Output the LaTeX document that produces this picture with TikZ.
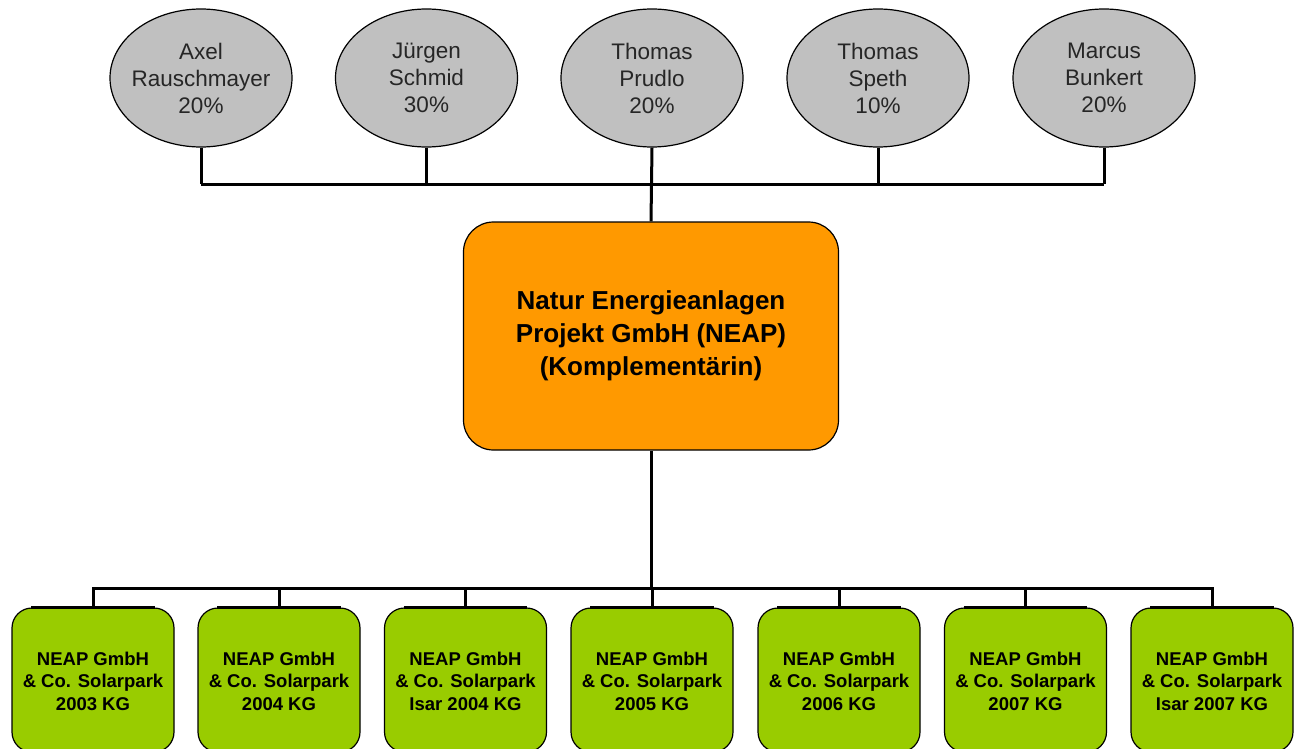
\documentclass[tikz,border=0pt]{standalone}
\usepackage{fontspec}
\setmainfont{Liberation Sans}
\usetikzlibrary{shapes.geometric}
\definecolor{pgray}{HTML}{C0C0C0}
\definecolor{porange}{HTML}{FF9900}
\definecolor{pgreen}{HTML}{99CC00}
\tikzset{
  person/.style={ellipse, draw=black, line width=1.2pt, fill=pgray, minimum width=182pt, minimum height=138pt, inner sep=0pt},
  ptext/.style={align=center, text=black!85, font=\fontsize{22.5}{27}\selectfont, inner sep=0pt},
  mainbox/.style={rectangle, rounded corners=30pt, draw=black, line width=1.2pt, fill=porange, minimum width=375pt, minimum height=228pt, align=center, font=\fontsize{26}{33}\selectfont\bfseries},
  subbox/.style={rectangle, rounded corners=20pt, draw=black, line width=1.2pt, fill=pgreen, minimum width=162pt, minimum height=144pt, inner sep=0pt},
  stext/.style={align=center, font=\fontsize{18.5}{22.5}\selectfont\bfseries, inner sep=0pt},
  conn/.style={draw=black, line width=3pt},
  topedge/.style={draw=black, line width=3pt},
}
\begin{document}
\begin{tikzpicture}[x=1pt,y=-1pt]
\useasboundingbox (0,0) rectangle (1296,749);
\clip (0,0) rectangle (1296,749);
% persons
\node[person] (p1) at (201,78) {};
\node[person] (p2) at (426.5,78) {};
\node[person] (p3) at (652,78) {};
\node[person] (p4) at (878,78) {};
\node[person] (p5) at (1104,78) {};
\node[ptext] (t1) at (p1.center) {Axel\\Rauschmayer\\20\%};
\node[ptext] (t2) at (p2.center) {Jürgen\\Schmid\\30\%};
\node[ptext] (t3) at (p3.center) {Thomas\\Prudlo\\20\%};
\node[ptext] (t4) at (p4.center) {Thomas\\Speth\\10\%};
\node[ptext] (t5) at (p5.center) {Marcus\\Bunkert\\20\%};
% main box
\node[mainbox] (neap) at (651,336) {Natur Energieanlagen\\Projekt GmbH (NEAP)\\(Komplementärin)};
% subsidiaries
\foreach \i/\x in {1/93,2/279,3/465.5,4/652,5/839,6/1025.5,7/1212}{
  \node[subbox] (c\i) at (\x,680) {};
  \draw[topedge] ([xshift=20pt]c\i.north west) -- ([xshift=-20pt]c\i.north east);
}
\node[stext] (s1) at (93,681) {NEAP GmbH\\\& Co. Solarpark\\2003 KG};
\node[stext] (s2) at (279,681) {NEAP GmbH\\\& Co. Solarpark\\2004 KG};
\node[stext] (s3) at (465.5,681) {NEAP GmbH\\\& Co. Solarpark\\Isar 2004 KG};
\node[stext] (s4) at (652,681) {NEAP GmbH\\\& Co. Solarpark\\2005 KG};
\node[stext] (s5) at (839,681) {NEAP GmbH\\\& Co. Solarpark\\2006 KG};
\node[stext] (s6) at (1025.5,681) {NEAP GmbH\\\& Co. Solarpark\\2007 KG};
\node[stext] (s7) at (1212,681) {NEAP GmbH\\\& Co. Solarpark\\Isar 2007 KG};
% top bus
\coordinate (topbus) at (652,184);
\draw[conn] (p1.south |- topbus) -- (p5.south |- topbus);
\foreach \i in {1,2,4,5}{
  \draw[conn] (p\i.south) -- (p\i.south |- topbus);
}
\draw[conn] (p3.south) -- (neap.north);
% bottom bus
\coordinate (botbus) at (652,588);
\draw[conn] (neap.south) -- (neap.south |- botbus);
\draw[conn,line cap=rect] (c1.north |- botbus) -- (c7.north |- botbus);
\foreach \i in {1,...,7}{
  \draw[conn] (c\i.north) -- (c\i.north |- botbus);
}
\end{tikzpicture}
\end{document}
